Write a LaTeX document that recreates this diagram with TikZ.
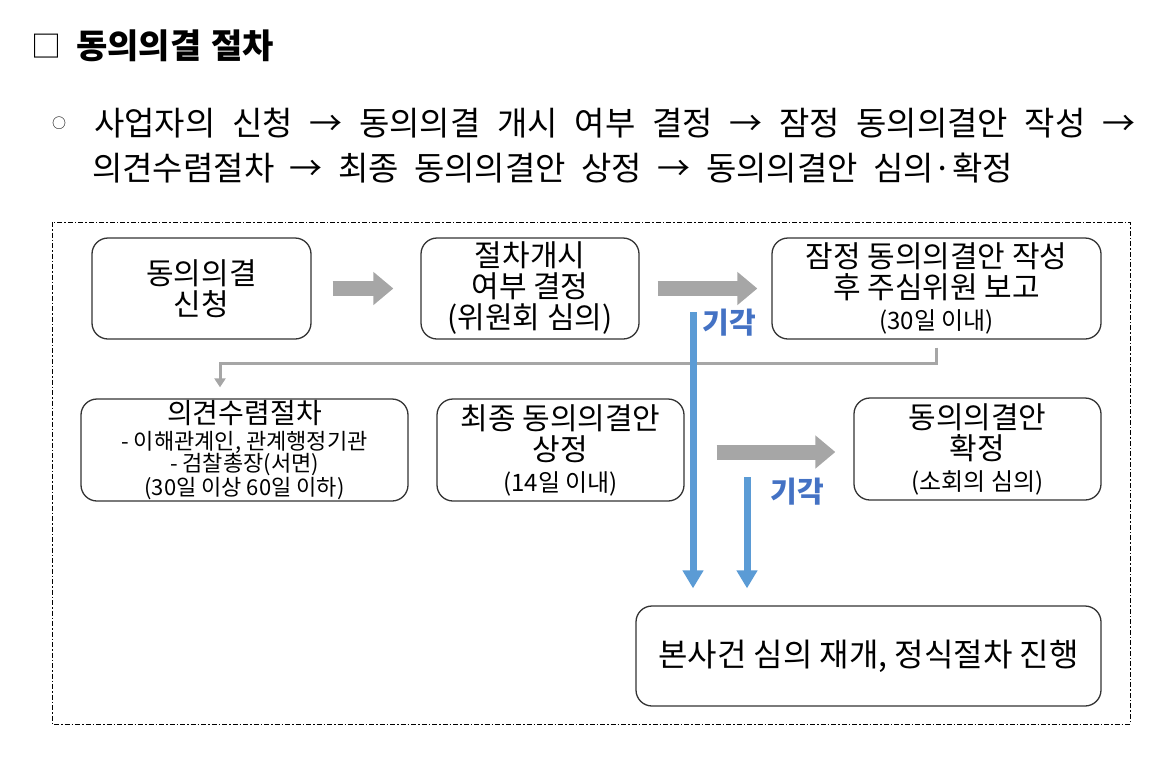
\documentclass[tikz,border=0pt]{standalone}
\usepackage{fontspec}
\setmainfont{Noto Sans CJK KR}
\usetikzlibrary{arrows.meta}

\definecolor{grayarrow}{HTML}{A6A6A6}
\definecolor{blueline}{HTML}{5B9BD5}
\definecolor{bluetext}{HTML}{4472C4}

\newcommand{\mainsz}{\fontsize{30}{31}\selectfont}
\newcommand{\optsz}{\fontsize{22}{22}\selectfont\lineskiplimit=-30pt\relax}
\newcommand{\subsz}{\fontsize{24}{24}\selectfont}
\newcommand{\bodysz}{\fontsize{33}{34}\selectfont\spaceskip=0pt plus 1fil\relax}

\begin{document}
\begin{tikzpicture}[x=1pt,y=-1pt,
  box/.style={draw=black!80,line width=1.3pt,rounded corners=16pt,align=center,inner sep=0pt,font=\mainsz},
  fat/.style={draw=grayarrow,line width=15pt,-{Triangle[length=20pt,width=32pt]}},
  elbow/.style={draw=grayarrow,line width=3pt,-{Triangle[length=9pt,width=11pt]}},
  reject/.style={draw=blueline,line width=7pt,-{Triangle[length=18pt,width=20pt]}},
  rejlabel/.style={text=bluetext,inner sep=0pt,font=\fontsize{29}{30}\selectfont\bfseries}]
  \useasboundingbox (0,0) rectangle (1171,769);

  \node[anchor=west,inner sep=0pt] (sq) at (31,46) {\fontsize{30}{30}\selectfont □};
  \node[anchor=west,inner sep=0pt] (title) at (76,46) {\fontsize{34}{34}\selectfont\bfseries 동의의결\hspace{10pt}절차};
  \node[inner sep=0pt] (bullet) at (59,123.5) {\fontsize{14}{14}\selectfont ○};
  \node[anchor=west,inner sep=0pt] (line1) at (94,123.5) {\bodysz\makebox[1041pt][s]{사업자의 신청 → 동의의결 개시 여부 결정 → 잠정 동의의결안 작성 →}};
  \node[anchor=west,inner sep=0pt] (line2) at (92,168.5) {\bodysz\makebox[921pt][s]{의견수렴절차 → 최종 동의의결안 상정 → 동의의결안 심의·확정}};

  \draw[line width=1pt,dash pattern=on 5pt off 2pt on 1.5pt off 2pt] (52,222) rectangle (1130,724);

  \node[box,minimum width=219pt,minimum height=101pt] (apply) at (201.5,288.5) {동의의결\\신청};
  \node[box,minimum width=218pt,minimum height=101pt] (open) at (530,288.5) {절차개시\\여부 결정\\(위원회 심의)};
  \node[box,minimum width=329pt,minimum height=101pt] (draft) at (936.5,288.5) {잠정 동의의결안 작성\\후 주심위원 보고\\\subsz (30일 이내)};
  \node[box,minimum width=327pt,minimum height=102pt,font=\optsz] (opinion) at (244.5,450) {\fontsize{28}{28}\selectfont 의견수렴절차\\[4pt]- 이해관계인, 관계행정기관\\- 검찰총장(서면)\\[2pt](30일 이상 60일 이하)};
  \node[box,minimum width=247pt,minimum height=102pt] (table) at (560.5,450) {최종 동의의결안\\상정\\\subsz (14일 이내)};
  \node[box,minimum width=247pt,minimum height=102pt] (confirm) at (977.5,449) {동의의결안\\확정\\\subsz (소회의 심의)};
  \node[box,minimum width=465pt,minimum height=100pt,font=\fontsize{32}{32}\selectfont] (resume) at (868.5,656) {본사건 심의 재개, 정식절차 진행};

  \draw[fat] ([xshift=21pt]apply.east) -- ([xshift=-27pt]open.west);
  \draw[fat] ([xshift=18pt]open.east) -- ([xshift=-14pt]draft.west);
  \draw[fat] ([xshift=32pt,yshift=-2pt]table.east) -- ([xshift=-18pt,yshift=-3pt]confirm.west);
  \draw[elbow] ([yshift=-8pt]draft.south) -- ([yshift=-24pt]draft.south) -| ([xshift=-24.5pt,yshift=11pt]opinion.north);

  \coordinate (rej1) at (693,312);
  \coordinate (rej2) at (747,477);
  \draw[reject,shorten >=17pt] (rej1) -- (rej1 |- resume.north);
  \draw[reject,shorten >=17pt] (rej2) -- (rej2 |- resume.north);
  \node[rejlabel] (rejtext1) at (729,323) {기각};
  \node[rejlabel] (rejtext2) at (797,492) {기각};
\end{tikzpicture}
\end{document}
